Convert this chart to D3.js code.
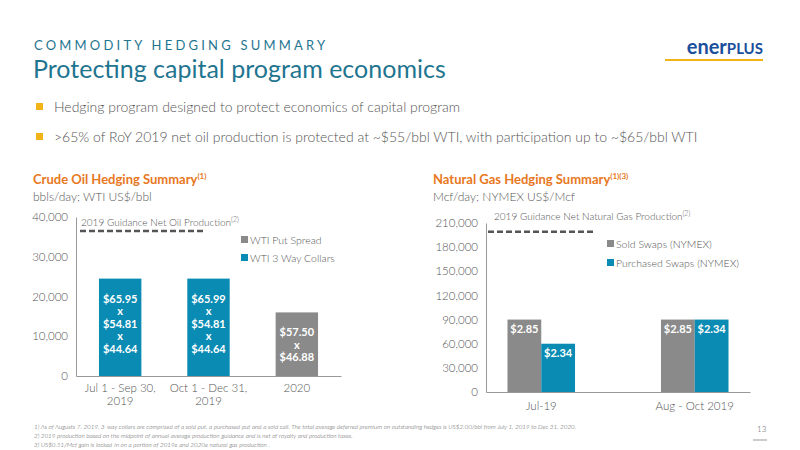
<!DOCTYPE html>
<html><head><meta charset="utf-8">
<script src="https://cdn.jsdelivr.net/npm/d3@7"></script>
<style>body{margin:0;background:#fff;font-family:Lato,"Open Sans",sans-serif}text{font-weight:300}</style>
</head><body><svg id="c" width="800" height="450"></svg>
<script>
const oilCats=["Jul 1 - Sep 30, 2019","Oct 1 - Dec 31, 2019","2020"];
const oilValues=[24500,24500,16000];
const oilTypes=["collar","collar","put"];
const oilLabels=[["$65.95","x","$54.81","x","$44.64"],["$65.99","x","$54.81","x","$44.64"],["$57.50","x","$46.88"]];
const oilTicks=[0,10000,20000,30000,40000];
const oilGuidance=36500;
const gasCats=["Jul-19","Aug - Oct 2019"];
const gasSold=[90000,90000];
const gasPurch=[60000,90000];
const gasSoldLabels=["$2.85","$2.85"];
const gasPurchLabels=["$2.34","$2.34"];
const gasTicks=[0,30000,60000,90000,120000,150000,180000,210000];
const gasGuidance=199000;
const BLUE="#0a8bb3",GRAY="#8a8a8a",TEAL="#1f7590",TXT="#555";
const svg=d3.select("#c");
svg.append("text").attr("x",34).attr("y",50).text("COMMODITY HEDGING SUMMARY").attr("fill",TEAL).attr("font-size",13).attr("letter-spacing",3.2).style("font-weight",400);
svg.append("text").attr("x",33).attr("y",78).text("Protecting capital program economics").attr("fill",TEAL).attr("font-size",25).style("font-weight",400);
const logo=svg.append("text").attr("x",763).attr("y",54).attr("text-anchor","end").attr("font-size",20).style("font-weight","bold");
logo.append("tspan").text("ener").attr("fill","#1a4f9c").style("font-weight","bold");
logo.append("tspan").text("PLUS").attr("fill","#1a4f9c").attr("font-size",15).style("font-weight","bold");
svg.append("rect").attr("x",665).attr("y",59).attr("width",98).attr("height",2).attr("fill","#f2b318");
const bullets=["Hedging program designed to protect economics of capital program","\u003e65% of RoY 2019 net oil production is protected at ~$55/bbl WTI, with participation up to ~$65/bbl WTI"];
bullets.forEach((b,i)=>{const y=112+i*30;
 svg.append("rect").attr("x",36).attr("y",y-9).attr("width",7).attr("height",7).attr("fill","#f2b318");
 svg.append("text").attr("x",54).attr("y",y).text(b).attr("font-size",14).attr("fill",TXT);});
function head(x,t,sup,sub){const h=svg.append("text").attr("x",x).attr("y",184).attr("font-size",13).style("font-weight","bold").attr("fill","#e87722");
 h.append("tspan").text(t).style("font-weight","bold");h.append("tspan").text(sup).attr("font-size",8).attr("dy",-5).style("font-weight","bold");
 svg.append("text").attr("x",x).attr("y",201).text(sub).attr("font-size",12).attr("fill",TXT);}
head(33,"Crude Oil Hedging Summary","(1)","bbls/day; WTI US$/bbl");
head(433,"Natural Gas Hedging Summary","(1)(3)","Mcf/day; NYMEX US$/Mcf");
function axisStyle(g){g.select(".domain").attr("stroke","#999");g.selectAll(".tick line").remove();g.selectAll("text").attr("fill",TXT).attr("font-size",11.5).attr("font-family","Lato,sans-serif");}
const oy=d3.scaleLinear().domain([0,40000]).range([376,217]);
const ox=d3.scaleBand().domain(oilCats).range([76,341]).paddingInner(0.52).paddingOuter(0.26);
svg.append("g").attr("transform","translate(76,0)").call(d3.axisLeft(oy).tickValues(oilTicks).tickFormat(d3.format(",")).tickSize(0).tickPadding(8)).call(axisStyle);
const oxa=svg.append("g").attr("transform","translate(0,376)").call(d3.axisBottom(ox).tickSize(0).tickPadding(8)).call(axisStyle);
oxa.selectAll(".tick text").each(function(d){const t=d3.select(this);const parts=d.includes(", ")?d.split(", "):[d];t.text(null);
 parts.forEach((p,i)=>t.append("tspan").attr("x",0).attr("dy",i?"1.15em":"0.71em").text(p+(i<parts.length-1?",":"")));});
oilCats.forEach((c,i)=>{const x=ox(c),w=ox.bandwidth();
 svg.append("rect").attr("x",x).attr("y",oy(oilValues[i])).attr("width",w).attr("height",oy(0)-oy(oilValues[i])).attr("fill",oilTypes[i]=="put"?GRAY:BLUE);
 const L=oilLabels[i],top=oy(oilValues[i])+24;
 L.forEach((s,j)=>svg.append("text").attr("x",x+w/2).attr("y",top+j*12.5).attr("text-anchor","middle").text(s).attr("fill","#fff").attr("font-size",11).style("font-weight","bold"));});
svg.append("line").attr("x1",80).attr("x2",205).attr("y1",oy(oilGuidance)).attr("y2",oy(oilGuidance)).attr("stroke","#555").attr("stroke-width",2.5).attr("stroke-dasharray","6,3");
const og=svg.append("text").attr("x",81).attr("y",226).attr("font-size",10).attr("fill",TXT);og.append("tspan").text("2019 Guidance Net Oil Production");og.append("tspan").text("(2)").attr("font-size",7).attr("dy",-4);
[["WTI Put Spread",GRAY],["WTI 3 Way Collars",BLUE]].forEach((l,i)=>{const y=244+i*18;
 svg.append("rect").attr("x",241).attr("y",y-8).attr("width",7).attr("height",7).attr("fill",l[1]);
 svg.append("text").attr("x",250).attr("y",y).text(l[0]).attr("font-size",10.5).attr("fill",TXT);});
const gy=d3.scaleLinear().domain([0,210000]).range([392,223]);
const gx=d3.scaleBand().domain(gasCats).range([486,750]).paddingInner(0.56).paddingOuter(0.14);
const gs=d3.scaleBand().domain(["s","p"]).range([0,gx.bandwidth()]);
svg.append("g").attr("transform","translate(486,0)").call(d3.axisLeft(gy).tickValues(gasTicks).tickFormat(d3.format(",")).tickSize(0).tickPadding(8)).call(axisStyle);
svg.append("g").attr("transform","translate(0,392)").call(d3.axisBottom(gx).tickSize(0).tickPadding(10)).call(axisStyle);
gasCats.forEach((c,i)=>{[["s",gasSold[i],GRAY,gasSoldLabels[i]],["p",gasPurch[i],BLUE,gasPurchLabels[i]]].forEach(b=>{
 const x=gx(c)+gs(b[0]),w=gs.bandwidth();
 svg.append("rect").attr("x",x).attr("y",gy(b[1])).attr("width",w).attr("height",gy(0)-gy(b[1])).attr("fill",b[2]);
 svg.append("text").attr("x",x+w/2).attr("y",gy(b[1])+13).attr("text-anchor","middle").text(b[3]).attr("fill","#fff").attr("font-size",11).style("font-weight","bold");});});
svg.append("line").attr("x1",488).attr("x2",596).attr("y1",gy(gasGuidance)).attr("y2",gy(gasGuidance)).attr("stroke","#555").attr("stroke-width",2.5).attr("stroke-dasharray","6,3");
const gg=svg.append("text").attr("x",494).attr("y",220).attr("font-size",10).attr("fill",TXT);gg.append("tspan").text("2019 Guidance Net Natural Gas Production");gg.append("tspan").text("(2)").attr("font-size",7).attr("dy",-4);
[["Sold Swaps (NYMEX)",GRAY],["Purchased Swaps (NYMEX)",BLUE]].forEach((l,i)=>{const y=248+i*19;
 svg.append("rect").attr("x",607).attr("y",y-8).attr("width",7).attr("height",7).attr("fill",l[1]);
 svg.append("text").attr("x",616).attr("y",y).text(l[0]).attr("font-size",10.5).attr("fill",TXT);});
const notes=["1)  As of Augusts 7, 2019.  3-way collars are comprised of a sold put, a purchased put and a sold call. The total average deferred premium on outstanding hedges is US$2.00/bbl from July 1, 2019 to Dec 31, 2020.","2)  2019 production based on the midpoint of annual average production guidance and is net of royalty and production taxes.","3)  US$0.51/Mcf gain is locked-in on a portion of 2019e and 2020e natural gas production ."];
notes.forEach((n,i)=>svg.append("text").attr("x",34).attr("y",429+i*9).text(n).attr("font-size",6.3).attr("font-style","italic").attr("fill",TXT));
svg.append("text").attr("x",757).attr("y",432).text("13").attr("font-size",8).attr("fill",TXT);
svg.append("line").attr("x1",753).attr("x2",767).attr("y1",440).attr("y2",440).attr("stroke","#999");
</script></body></html>
